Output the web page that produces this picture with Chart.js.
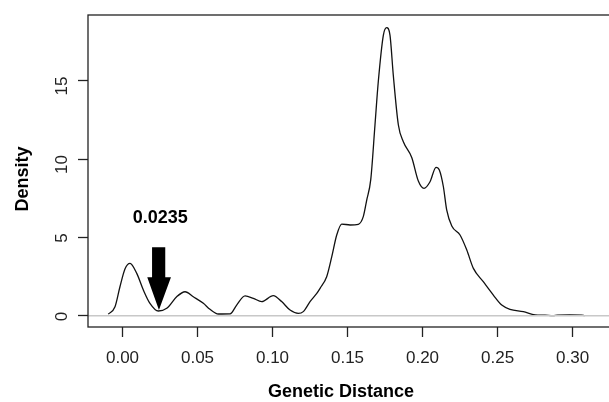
<!DOCTYPE html>
<html>
<head>
<meta charset="utf-8">
<script src="https://cdn.jsdelivr.net/npm/chart.js@4.4.1/dist/chart.umd.min.js"></script>
<style>
  html, body { margin: 0; padding: 0; background: #fff; }
  canvas { display: block; }
</style>
</head>
<body>
<canvas id="densityChart" width="609" height="402"></canvas>
<script>
// density curve
const distance = [-0.0095, -0.005, -0.0017, 0.0017, 0.005, 0.0095, 0.0139, 0.0183, 0.0239, 0.0295,
    0.0361, 0.0417, 0.0472, 0.0539, 0.0583, 0.0639, 0.0717, 0.0761, 0.0817, 0.0872,
    0.0928, 0.1005, 0.1061, 0.1117, 0.1172, 0.1205, 0.125, 0.1295, 0.1317, 0.1361,
    0.1395, 0.1428, 0.1461, 0.1517, 0.1572, 0.1605, 0.1628, 0.1655, 0.1683, 0.1705,
    0.1739, 0.1761, 0.1783, 0.1805, 0.1839, 0.1872, 0.1928, 0.1972, 0.201, 0.205,
    0.209, 0.2112, 0.2139, 0.2161, 0.2195, 0.225, 0.2295, 0.2339, 0.2405, 0.2472,
    0.2528, 0.2583, 0.2672, 0.275, 0.2817, 0.287, 0.29, 0.298, 0.306, 0.308];
const density = [0.1, 0.57, 1.85, 3.0, 3.34, 2.7, 1.64, 0.79, 0.3, 0.47,
    1.21, 1.53, 1.21, 0.79, 0.41, 0.11, 0.12, 0.68, 1.26, 1.11,
    0.9, 1.28, 0.9, 0.36, 0.15, 0.26, 0.9, 1.43, 1.75, 2.49,
    3.77, 5.15, 5.85, 5.79, 5.83, 6.32, 7.38, 8.7, 12.17, 14.93,
    17.91, 18.38, 17.9, 15.36, 12.17, 11.1, 10.1, 8.6, 8.13, 8.55,
    9.47, 9.3, 8.23, 6.75, 5.72, 5.15, 4.19, 3.02, 2.17, 1.32,
    0.68, 0.41, 0.26, 0.06, 0.03, 0.0, 0.04, 0.05, 0.04, 0.0];

const xTicks = [0, 0.05, 0.10, 0.15, 0.20, 0.25, 0.30];
const yTicks = [0, 5, 10, 15];

const cutoff = 0.0235;

const FONT = "'Liberation Sans', Arial, sans-serif";

const points = distance.map((d, i) => ({ x: d, y: density[i] }));

/*** Box, arrow, label and axis titles ***/
const extrasPlugin = {
    id: "extras",
    afterDatasetsDraw(chart) {
        const { ctx, chartArea, scales } = chart;
        const x = scales.x, y = scales.y;

        // arrow pointing at the cutoff
        const px = v => x.getPixelForValue(v);
        const py = v => y.getPixelForValue(v);
        ctx.save();
        ctx.fillStyle = "#000";
        ctx.beginPath();
        ctx.moveTo(px(cutoff - 0.0038), py(4.37));
        ctx.lineTo(px(cutoff + 0.0050), py(4.37));
        ctx.lineTo(px(cutoff + 0.0050), py(2.45));
        ctx.lineTo(px(cutoff + 0.0088), py(2.45));
        ctx.lineTo(px(cutoff + 0.0008), py(0.36));
        ctx.lineTo(px(cutoff - 0.0070), py(2.45));
        ctx.lineTo(px(cutoff - 0.0038), py(2.45));
        ctx.closePath();
        ctx.fill();

        ctx.font = "bold 18px " + FONT;
        ctx.textAlign = "center";
        ctx.textBaseline = "middle";
        ctx.fillText(cutoff.toFixed(4), px(cutoff + 0.0017), py(6.23));

        // frame (right side runs off the picture)
        ctx.strokeStyle = "#222";
        ctx.lineWidth = 1.3;
        ctx.strokeRect(chartArea.left, chartArea.top, chartArea.right + 60 - chartArea.left, chartArea.bottom - chartArea.top);
        ctx.restore();
    },
    afterDraw(chart) {
        const { ctx } = chart;
        ctx.save();
        ctx.fillStyle = "#000";
        ctx.font = "bold 18px " + FONT;
        ctx.textAlign = "center";
        ctx.textBaseline = "middle";
        ctx.fillText("Genetic Distance", 341, 392);
        ctx.translate(23, 179);
        ctx.rotate(-Math.PI / 2);
        ctx.fillText("Density", 0, 0);
        ctx.restore();
    }
};

new Chart(document.getElementById("densityChart"), {
    type: "scatter",
    data: {
        datasets: [
            {
                // zero reference line, drawn on top of the curve
                data: [{ x: -0.05, y: 0 }, { x: 0.4, y: 0 }],
                showLine: true,
                borderColor: "#c8c8c8",
                borderWidth: 1.6,
                pointRadius: 0,
                order: 0
            },
            {
                data: points,
                showLine: true,
                borderColor: "#111",
                borderWidth: 1.3,
                pointRadius: 0,
                cubicInterpolationMode: "monotone",
                order: 1
            }
        ]
    },
    options: {
        responsive: false,
        animation: false,
        layout: { padding: { top: 15, right: 0, left: 0, bottom: 0 } },
        plugins: { legend: { display: false }, tooltip: { enabled: false } },
        scales: {
            x: {
                type: "linear",
                min: -0.023,
                max: 0.3243,
                afterBuildTicks: s => { s.ticks = xTicks.map(v => ({ value: v })); },
                afterFit: s => { s.height = 75; s.paddingLeft = 0; s.paddingRight = 0; },
                grid: { drawOnChartArea: false, tickLength: 10, color: "#222", tickWidth: 1.3 },
                border: { display: false },
                ticks: {
                    color: "#222",
                    font: { family: FONT, size: 17 },
                    padding: 11,
                    maxRotation: 0,
                    callback: v => v.toFixed(2)
                }
            },
            y: {
                type: "linear",
                min: -0.72,
                max: 19.19,
                afterBuildTicks: s => { s.ticks = yTicks.map(v => ({ value: v })); },
                afterFit: s => { s.width = 88; s.paddingTop = 0; s.paddingBottom = 0; },
                grid: { drawOnChartArea: false, tickLength: 10, color: "#222", tickWidth: 1.3 },
                border: { display: false },
                ticks: {
                    color: "#222",
                    font: { family: FONT, size: 17 },
                    padding: 16,
                    labelOffset: -4,
                    minRotation: 90,
                    maxRotation: 90,
                    callback: v => String(v)
                }
            }
        }
    },
    plugins: [extrasPlugin]
});
</script>
</body>
</html>
